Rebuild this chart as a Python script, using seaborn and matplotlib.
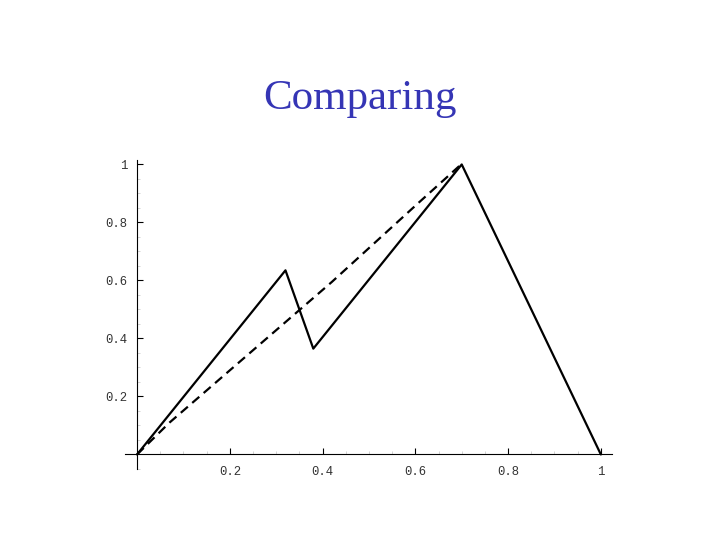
import numpy as np
import pandas as pd
import seaborn as sns
import matplotlib.pyplot as plt
from matplotlib.ticker import FixedLocator, MultipleLocator

# solid curve vertices
solid_x = [0.0, 0.32, 0.38, 0.70, 1.0]
solid_y = [0.0, 0.635, 0.365, 1.0, 0.0]

# dashed curve vertices
dash_x = [0.0, 0.07, 0.42, 0.605, 0.695]
dash_y = [0.0, 0.11, 0.595, 0.865, 0.995]

x_ticks = [0.2, 0.4, 0.6, 0.8, 1.0]
x_labels = ["0.2", "0.4", "0.6", "0.8", "1"]
y_ticks = [0.2, 0.4, 0.6, 0.8, 1.0]
y_labels = ["0.2", "0.4", "0.6", "0.8", "1"]

sns.set_style("white")

fig = plt.figure(figsize=(7.2, 5.4), dpi=100)
ax = fig.add_axes([0.1736, 0.1315, 0.6764, 0.572])

solid = pd.DataFrame({"x": solid_x, "y": solid_y})
dashed = pd.DataFrame({"x": dash_x, "y": dash_y})

sns.lineplot(data=solid, x="x", y="y", sort=False, estimator=None,
             color="black", linewidth=1.6, ax=ax)
sns.lineplot(data=dashed, x="x", y="y", sort=False, estimator=None,
             color="black", linewidth=1.6, ax=ax)
ax.lines[-1].set_dashes([4.2, 2.6])

ax.set_xlim(-0.026, 1.024)
ax.set_ylim(-0.05, 1.015)

for side in ["top", "right"]:
    ax.spines[side].set_visible(False)
ax.spines["left"].set_position(("data", 0))
ax.spines["bottom"].set_position(("data", 0))
for side in ["left", "bottom"]:
    ax.spines[side].set_color("black")
    ax.spines[side].set_linewidth(0.8)

ax.xaxis.set_major_locator(FixedLocator(x_ticks))
ax.yaxis.set_major_locator(FixedLocator(y_ticks))
ax.set_xticklabels(x_labels)
ax.set_yticklabels(y_labels)
ax.xaxis.set_minor_locator(MultipleLocator(0.05))
ax.yaxis.set_minor_locator(MultipleLocator(0.05))

ax.tick_params(which="major", direction="in", length=4, width=0.8,
               color="black", bottom=True, left=True)
ax.tick_params(which="minor", direction="in", length=2.5, width=0.6,
               color="#cccccc", bottom=True, left=True)
ax.tick_params(axis="x", which="major", pad=8)
ax.tick_params(axis="y", which="major", pad=7)
for lab in ax.get_xticklabels() + ax.get_yticklabels():
    lab.set_fontfamily("Liberation Mono")
    lab.set_fontsize(8.8)
    lab.set_color("#333333")

ax.set_xlabel("")
ax.set_ylabel("")

fig.text(0.5, 0.818, "Comparing", ha="center", va="center",
         fontsize=31, color="#3535b5", family="Liberation Serif")

fig.savefig("out.png", dpi=100)
